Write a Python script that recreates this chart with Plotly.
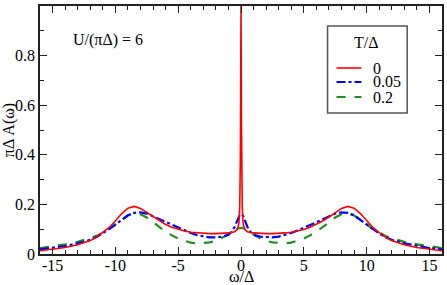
import plotly.graph_objects as go

# omega/Delta positions (half axis, mirrored for symmetric spectra)
w_half_red = [0, 0.01, 0.02, 0.035, 0.05, 0.07, 0.1, 0.15, 0.2, 0.3, 0.5, 1.0, 1.5, 2.0, 2.5,
              3.0, 3.5, 4.0, 4.5, 5.0, 5.5, 6.0, 6.5, 7.0, 7.5, 8.0, 8.5, 9.0, 9.5, 10.0,
              10.5, 11.0, 11.5, 12.0, 13.0, 14.0, 15.0, 16.0]
a_red = [1.0, 0.92, 0.78, 0.54, 0.39, 0.27, 0.19, 0.135, 0.115, 0.1, 0.09, 0.085, 0.083, 0.082,
         0.082, 0.083, 0.085, 0.088, 0.093, 0.099, 0.108, 0.119, 0.133, 0.149, 0.168, 0.184,
         0.192, 0.185, 0.163, 0.133, 0.107, 0.086, 0.068, 0.054, 0.037, 0.026, 0.018, 0.013]

w_half_blue = [0, 0.1, 0.2, 0.3, 0.5, 0.75, 1.0, 1.5, 2.0, 2.5, 3.0, 3.5, 4.0, 4.5, 5.0, 5.5,
               6.0, 6.5, 7.0, 7.5, 8.0, 8.5, 9.0, 9.5, 10.0, 10.5, 11.0, 11.5, 12.0, 13.0,
               14.0, 15.0, 16.0]
a_blue = [0.16, 0.158, 0.15, 0.135, 0.11, 0.09, 0.078, 0.07, 0.067, 0.067, 0.07, 0.076, 0.085,
          0.095, 0.105, 0.116, 0.128, 0.14, 0.152, 0.163, 0.168, 0.166, 0.156, 0.138, 0.118,
          0.1, 0.083, 0.068, 0.057, 0.043, 0.032, 0.024, 0.019]

w_half_green = [0, 0.25, 0.5, 1.0, 1.5, 2.0, 2.5, 3.0, 3.5, 4.0, 4.5, 5.0, 5.5, 6.0, 6.5, 7.0,
                7.5, 8.0, 8.5, 9.0, 9.5, 10.0, 10.5, 11.0, 11.5, 12.0, 13.0, 14.0, 15.0, 16.0]
a_green = [0.105, 0.103, 0.097, 0.078, 0.064, 0.053, 0.047, 0.044, 0.043, 0.046, 0.053, 0.062,
           0.075, 0.09, 0.108, 0.127, 0.147, 0.16, 0.165, 0.155, 0.138, 0.12, 0.1, 0.085,
           0.073, 0.063, 0.049, 0.039, 0.031, 0.024]

series_names = ["0", "0.05", "0.2"]
x_tick_vals = [-15, -10, -5, 0, 5, 10, 15]
x_tick_text = ["-15", "-10", "-5", "0", "5", "10", "15"]
y_tick_vals = [0, 0.2, 0.4, 0.6, 0.8, 1]
y_tick_text = ["0", "0.2", "0.4", "0.6", "0.8", "1"]


def mirror(wh, a):
    xs = [-w for w in reversed(wh[1:])] + list(wh)
    ys = list(reversed(a[1:])) + list(a)
    return xs, ys


FONT = "Times New Roman"
RED, BLUE, GREEN = "#ff0000", "#0000ff", "#1f8f1f"
FS = 16

fig = go.Figure()
for (wh, a, col, dash, wid, name) in [
    (w_half_green, a_green, GREEN, "dash", 2.2, series_names[2]),
    (w_half_blue, a_blue, BLUE, "dashdot", 2.2, series_names[1]),
    (w_half_red, a_red, RED, "solid", 1.6, series_names[0]),
]:
    xs, ys = mirror(wh, a)
    fig.add_trace(go.Scatter(x=xs, y=ys, mode="lines", name=name,
                             line=dict(color=col, dash=dash, width=wid),
                             showlegend=False))

axis_common = dict(
    showline=True, linecolor="#222", linewidth=1.5, mirror="ticks",
    ticks="inside", ticklen=7, tickwidth=1.2, tickcolor="#222",
    showgrid=False, zeroline=False,
    tickfont=dict(family=FONT, size=FS, color="black"),
)

fig.update_xaxes(range=[-16, 16], tickvals=x_tick_vals, ticktext=x_tick_text,
                 ticklabelstandoff=-4,
                 minor=dict(ticks="inside", ticklen=4, dtick=1, tick0=0, tickcolor="#222", tickwidth=1),
                 **axis_common)
fig.update_yaxes(range=[0, 1], tickvals=y_tick_vals, ticktext=y_tick_text,
                 minor=dict(ticks="inside", ticklen=4, dtick=0.1, tick0=0, tickcolor="#222", tickwidth=1),
                 **axis_common)

# helper: pixel -> paper coords (plot area 40..444 x 6..254)
def px(x):
    return (x - 40) / 404.0


def py(y):
    return (254 - y) / 248.0


def txt(x, y, s, xanchor="center", angle=0):
    return dict(x=px(x), y=py(y), xref="paper", yref="paper", text=s, showarrow=False,
                xanchor=xanchor, yanchor="middle", textangle=angle,
                font=dict(family=FONT, size=FS, color="black"))


shapes = [dict(type="rect", xref="paper", yref="paper", x0=px(329), x1=px(409), y0=py(113), y1=py(26),
               line=dict(color="#555", width=1.5), fillcolor="white", layer="above")]
annotations = [
    txt(108, 40, "U/(πΔ) = 6"),
    txt(368, 43, "T/Δ"),
    txt(243, 276.5, "ω/Δ"),
    txt(9, 130, "πΔ A(ω)", angle=-90),
]
for yy, col, dash, wid, name in [(68, RED, "solid", 1.6, series_names[0]),
                                 (82, BLUE, "dashdot", 2.2, series_names[1]),
                                 (97, GREEN, "dash", 2.2, series_names[2])]:
    shapes.append(dict(type="line", xref="paper", yref="paper", x0=px(338), x1=px(363),
                       y0=py(yy), y1=py(yy), line=dict(color=col, dash=dash, width=wid), layer="above"))
    annotations.append(txt(373, yy, name, xanchor="left"))

fig.update_layout(
    width=447, height=285,
    margin=dict(l=40, r=3, t=6, b=31),
    paper_bgcolor="white", plot_bgcolor="white",
    font=dict(family=FONT, size=FS, color="black"),
    shapes=shapes, annotations=annotations,
    showlegend=False,
)

fig.write_html("out.html", config={"displayModeBar": False},
               post_script="document.body.style.margin='0';")
